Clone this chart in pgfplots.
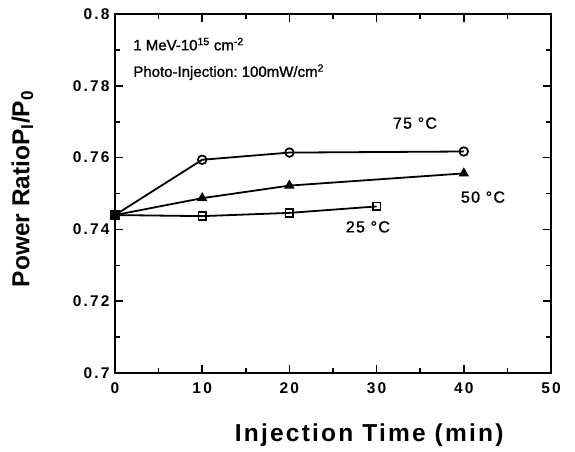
\documentclass[border=0pt]{standalone}
\usepackage{fontspec}
\setmainfont{Liberation Sans}
\usepackage{pgfplots}
\pgfplotsset{compat=1.18}

\newcommand{\ticklabelfont}{\fontsize{15.5}{15.5}\selectfont\bfseries\addfontfeatures{LetterSpace=14}}
\newcommand{\labelfont}{\fontsize{24.5}{24.5}\selectfont\bfseries}
\newcommand{\notefont}{\fontsize{15}{15}\selectfont\addfontfeatures{FakeBold=1.2}}
\newcommand{\tempfont}{\fontsize{16}{16}\selectfont\addfontfeatures{LetterSpace=8,FakeBold=1.2}}

\begin{document}
\begin{tikzpicture}[x=1pt,y=1pt]
\useasboundingbox (-115,-78) rectangle (460,373);
\begin{axis}[
  at={(0,0)}, anchor=south west,
  scale only axis, width=436pt, height=359pt,
  xmin=0, xmax=50, ymin=0.7, ymax=0.8,
  xtick={0,10,20,30,40,50},
  xticklabels={0,10,20,30,40,50},
  ytick={0.7,0.72,0.74,0.76,0.78,0.8},
  yticklabels={0.7,0.72,0.74,0.76,0.78,0.8},
  minor x tick num=1, minor y tick num=1,
  tick align=inside,
  major tick length=8pt, minor tick length=5pt,
  axis line style={line width=2.2pt},
  every tick/.style={black, line width=1.6pt},
  tick label style={font=\ticklabelfont},
  xticklabel style={yshift=-6pt},
  yticklabel style={xshift=-2pt},
  xlabel={\addfontfeatures{LetterSpace=9}Injection Time (min)},
  xlabel style={font=\labelfont, at={(axis description cs:0.583,-0.173)}, anchor=center},
  ylabel={Power RatioP\textsubscript{I}/P\textsubscript{0}},
  ylabel style={font=\labelfont, at={(axis description cs:-0.212,0.513)}, anchor=center},
  clip=false,
  every axis plot/.append style={black, line width=1.8pt, mark size=4.3pt},
]
% 75 C
\addplot[mark=o, mark options={line width=1.7pt, fill=white}] coordinates {
  (0,0.744) (10,0.7594) (20,0.7614) (40,0.7617)};
% 50 C
\addplot[mark=triangle*, mark options={fill=black}] coordinates {
  (0,0.744) (10,0.7487) (20,0.7522) (40,0.7556)};
% 25 C
\addplot[mark=square, mark options={line width=1.7pt, fill=white, mark size=3.8pt}] coordinates {
  (0,0.744) (10,0.7437) (20,0.7446) (30,0.7464)};
% common starting point
\addplot[only marks, mark=square*, mark options={fill=black, mark size=4.3pt}] coordinates {(0,0.744)};

\node[anchor=west, font=\notefont] at (axis cs:1.7,0.7916) {1 MeV-10\textsuperscript{15} cm\textsuperscript{-2}};
\node[anchor=west, font=\notefont] at (axis cs:1.7,0.7838) {Photo-Injection:\ 100mW/cm\textsuperscript{2}};
\node[font=\tempfont] at (axis cs:34.4,0.7696) {75 \textdegree C};
\node[font=\tempfont] at (axis cs:42.2,0.7490) {50 \textdegree C};
\node[font=\tempfont] at (axis cs:29.0,0.7407) {25 \textdegree C};
\end{axis}
\end{tikzpicture}
\end{document}
